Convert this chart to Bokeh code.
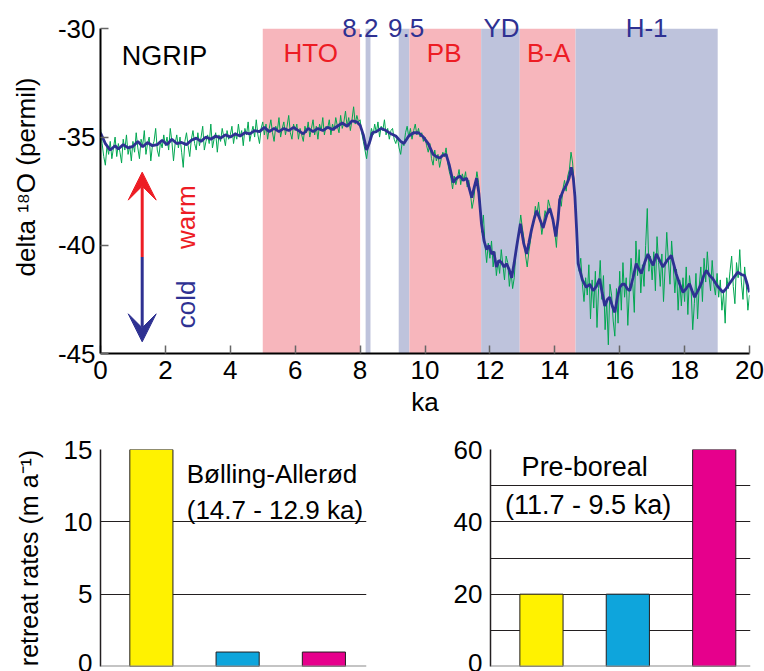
import numpy as np
from bokeh.plotting import figure
from bokeh.models import Range1d, FixedTicker, Label, Arrow, VeeHead, Span, ColumnDataSource
from bokeh.layouts import column, row
from bokeh.embed import file_html
from bokeh.resources import INLINE

FONT = "Liberation Sans"
RED = "#ed1c24"
NAVY = "#2e3192"
PINK = "#f7b6bc"
LAVENDER = "#bec3dc"

# ---------------- data: NGRIP delta 18O ----------------
# raw (20-yr-ish) record, sampled every 0.05 ka from 0 to 20 ka
green_d18o = [
    -34.6, -35.3, -35.9, -36.3, -35.4, -35.8, -35.2, -36.0, -35.5, -35.0, -35.9, -35.3, -35.7, -36.2, -35.1, -35.6, -34.9, -35.8, -35.4, -36.1,
    -35.2, -35.7, -34.8, -35.5, -36.0, -35.1, -35.4, -34.7, -35.8, -35.3, -35.0, -36.1, -35.4, -35.2, -34.6, -35.6, -35.9, -35.2, -35.5, -34.9,
    -35.4, -35.0, -35.6, -34.6, -35.2, -36.1, -35.3, -34.9, -35.5, -35.0, -35.7, -36.4, -35.2, -34.8, -35.4, -35.9, -35.1, -34.7, -35.3, -35.6,
    -34.8, -35.4, -35.0, -34.5, -35.6, -35.2, -34.9, -35.3, -34.4, -35.5, -35.1, -34.8, -35.7, -34.9, -35.2, -34.6, -35.0, -35.4, -34.7, -35.1,
    -34.9, -34.5, -35.3, -34.8, -35.1, -34.4, -35.0, -34.7, -35.4, -34.6, -34.9, -34.3, -35.2, -34.8, -34.5, -35.0, -34.2, -34.9, -35.3, -34.6,
    -34.3, -34.9, -34.4, -35.1, -34.6, -34.2, -34.8, -35.2, -34.5, -34.7, -34.1, -35.0, -34.6, -34.3, -34.9, -34.5, -34.0, -34.8, -35.1, -34.4,
    -34.7, -34.4, -35.1, -34.6, -34.9, -35.2, -34.5, -34.8, -34.3, -35.0, -34.6, -34.2, -34.9, -34.5, -35.1, -34.4, -34.7, -34.1, -34.9, -34.5,
    -34.6, -34.2, -34.9, -34.4, -34.7, -34.1, -34.5, -34.8, -34.0, -34.6, -34.3, -33.8, -34.5, -34.1, -34.7, -34.2, -33.6, -34.4, -34.0, -34.3,
    -34.2, -34.8, -35.2, -35.6, -36.0, -35.4, -35.1, -34.6, -34.9, -34.4, -34.8, -34.3, -35.0, -34.5, -34.7, -34.2, -34.9, -34.6, -35.1, -34.7,
    -34.6, -35.1, -35.3, -35.0, -35.5, -35.8, -35.2, -35.4, -34.8, -34.5, -35.0, -34.6, -35.1, -34.7, -34.4, -34.9, -34.6, -35.0, -34.8, -35.2,
    -35.0, -35.4, -35.7, -35.3, -36.0, -36.3, -35.6, -36.1, -35.8, -36.4, -36.0, -35.7, -35.9, -35.5, -36.2, -36.6, -36.9, -37.4, -36.8, -37.2,
    -36.9, -36.5, -37.2, -36.7, -37.0, -36.6, -37.3, -37.0, -37.6, -38.3, -37.9, -37.2, -36.6, -37.1, -38.2, -39.4, -38.6, -40.0, -40.8, -39.9,
    -40.6, -39.8, -41.0, -40.3, -41.4, -40.7, -41.3, -40.2, -40.9, -41.6, -40.5, -40.8, -41.9, -41.2, -42.0, -41.5, -40.3, -39.8, -39.3, -38.6,
    -39.2, -39.7, -40.5, -41.0, -40.3, -39.8, -39.1, -38.9, -38.2, -38.6, -38.0, -38.8, -39.5, -39.0, -38.4, -38.7, -37.9, -38.2, -38.6, -38.9,
    -39.4, -40.1, -38.7, -37.7, -38.2, -37.4, -37.0, -37.5, -36.8, -36.5, -35.7, -36.2, -37.3, -38.6, -40.4, -41.2, -40.6, -41.8, -42.6, -41.5,
    -42.3, -40.9, -43.4, -41.6, -42.9, -41.2, -43.8, -42.0, -40.7, -42.5, -41.4, -43.9, -42.6, -44.6, -41.8, -42.3, -43.5, -44.2, -42.0, -43.6,
    -41.2, -43.0, -40.8, -42.4, -41.5, -43.7, -42.0, -40.6, -41.7, -43.1, -39.8, -41.4, -40.2, -42.2, -40.9, -41.9, -40.0, -38.3, -41.2, -40.5,
    -41.6, -40.3, -42.1, -39.6, -40.8, -41.9, -40.4, -42.6, -41.0, -39.4, -40.7, -41.8, -39.8, -40.9, -42.2, -41.1, -43.0, -41.6, -42.8, -41.5,
    -42.6, -41.0, -43.2, -41.4, -42.0, -43.9, -42.7, -41.3, -43.4, -41.9, -41.0, -42.6, -40.6, -41.7, -40.3, -41.4, -42.1, -40.7, -41.8, -42.3,
    -41.3, -42.4, -41.6, -43.0, -42.2, -43.6, -41.5, -42.0, -41.2, -40.5, -41.9, -42.7, -40.8, -41.5, -40.2, -41.7, -42.5, -41.0, -41.8, -43.0,
    -42.3,
]
green_ka = np.linspace(0.0, 20.0, len(green_d18o))

# smoothed record
blue_ka = [
    0.0, 0.15, 0.3, 0.45, 0.55, 0.7, 0.85, 1.0, 1.15, 1.3, 1.45, 1.6, 1.75, 1.9, 2.05, 2.2, 2.35, 2.5, 2.65, 2.8,
    2.95, 3.1, 3.25, 3.4, 3.55, 3.7, 3.85, 4.0, 4.15, 4.3, 4.45, 4.6, 4.75, 4.9, 5.05, 5.2, 5.35, 5.5, 5.65, 5.8,
    5.95, 6.1, 6.25, 6.4, 6.55, 6.7, 6.85, 7.0, 7.15, 7.3, 7.45, 7.6, 7.75, 7.9, 8.0, 8.1, 8.2, 8.28, 8.38, 8.5,
    8.65, 8.8, 8.95, 9.1, 9.25, 9.35, 9.5, 9.65, 9.8, 9.95, 10.1, 10.25, 10.35, 10.45, 10.55, 10.65, 10.75, 10.87, 10.97, 11.08,
    11.18, 11.28, 11.44, 11.52, 11.59, 11.66, 11.74, 11.82, 11.9, 11.97, 12.05, 12.12, 12.2, 12.28, 12.36, 12.44, 12.51, 12.59, 12.67, 12.75,
    12.82, 12.94, 13.04, 13.13, 13.2, 13.28, 13.36, 13.44, 13.54, 13.64, 13.75, 13.85, 13.94, 14.03, 14.1, 14.15, 14.25, 14.36, 14.44, 14.51,
    14.57, 14.62, 14.67, 14.72, 14.85, 14.97, 15.08, 15.18, 15.28, 15.38, 15.46, 15.54, 15.62, 15.69, 15.77, 15.85, 15.93, 16.0, 16.08, 16.15,
    16.23, 16.31, 16.41, 16.51, 16.59, 16.67, 16.77, 16.87, 16.95, 17.03, 17.13, 17.23, 17.33, 17.46, 17.59, 17.67, 17.74, 17.85, 17.95, 18.05,
    18.15, 18.23, 18.31, 18.41, 18.51, 18.59, 18.67, 18.77, 18.87, 19.02, 19.18, 19.28, 19.38, 19.51, 19.64, 19.75, 19.85, 19.93, 20.0,
]
blue_d18o = [
    -34.8, -35.3, -35.6, -35.4, -35.55, -35.35, -35.5, -35.43, -35.2, -35.45, -35.25, -35.4, -35.35, -35.15, -35.35, -35.1, -35.3, -35.25, -35.35, -35.15,
    -35.05, -35.2, -35.0, -35.1, -34.95, -35.05, -34.9, -35.0, -34.85, -34.95, -34.8, -34.85, -34.7, -34.75, -34.55, -34.75, -34.6, -34.75, -34.6, -34.7,
    -34.55, -34.7, -34.85, -34.6, -34.75, -34.6, -34.7, -34.55, -34.65, -34.5, -34.35, -34.5, -34.25, -34.3, -34.45, -34.9, -35.6, -35.3, -34.8, -34.75,
    -34.6, -34.7, -34.85, -34.95, -35.2, -35.3, -34.95, -34.8, -34.8, -35.0, -35.3, -35.8, -35.9, -35.97, -35.85, -35.8, -36.3, -37.1, -36.9, -36.8,
    -37.0, -36.9, -37.8, -37.3, -36.9, -37.6, -39.0, -39.8, -40.2, -40.0, -40.4, -40.3, -41.0, -40.7, -40.8, -41.0, -40.85, -41.1, -41.5, -40.8,
    -40.1, -39.0, -39.9, -40.4, -39.9, -39.3, -38.8, -38.4, -38.8, -39.2, -38.6, -38.3, -38.8, -39.6, -38.8, -37.9, -37.5, -37.2, -36.9, -36.4,
    -36.9, -37.75, -39.2, -40.85, -41.6, -41.94, -41.8, -42.1, -41.9, -41.55, -42.2, -42.8, -42.5, -42.4, -42.8, -43.1, -42.4, -41.95, -41.8, -41.8,
    -42.0, -42.1, -41.5, -40.85, -41.1, -41.3, -40.8, -40.4, -40.7, -40.93, -40.4, -40.7, -41.0, -40.7, -40.47, -40.9, -41.32, -41.8, -42.17, -42.0,
    -41.78, -42.1, -42.4, -42.1, -41.78, -41.4, -41.16, -41.4, -41.55, -41.9, -42.17, -42.0, -41.78, -41.5, -41.24, -41.35, -41.4, -41.8, -42.17,
]

# climate periods
band_start = [5.0, 8.17, 9.19, 9.52, 11.73, 12.92, 14.64]
band_end = [8.0, 8.32, 9.52, 11.73, 12.92, 14.64, 19.02]
band_kind = ["warm", "cold", "cold", "warm", "cold", "warm", "cold"]
band_label = ["HTO", "8.2", "9.5", "PB", "YD", "B-A", "H-1"]
band_label_x = [6.48, 8.01, 9.42, 10.59, 12.36, 13.81, 16.83]

# glacier retreat rates
bar_colors = ["#fff200", "#0ea5dc", "#e6008c"]
ba_rates = [15, 1, 1]      # Bølling-Allerød (14.7 - 12.9 ka)
pb_rates = [20, 20, 60]    # Pre-boreal (11.7 - 9.5 ka)

# ---------------- top panel ----------------
p = figure(width=764, height=430, x_range=Range1d(0, 20), y_range=Range1d(-45, -28.69),
           output_backend="svg", toolbar_location=None,
           min_border_left=100, min_border_right=15, min_border_top=0, min_border_bottom=77)
p.outline_line_color = None
p.grid.visible = False
p.background_fill_color = "white"

band_src = ColumnDataSource(dict(
    left=band_start, right=band_end,
    color=[PINK if k == "warm" else LAVENDER for k in band_kind]))
p.quad(left="left", right="right", bottom=-45, top=-30, fill_color="color",
       line_color=None, source=band_src)

p.line(green_ka, green_d18o, line_color="#00a651", line_width=1)
p.line(blue_ka, blue_d18o, line_color=NAVY, line_width=2.8)

for lbl, lx, kind in zip(band_label, band_label_x, band_kind):
    if kind == "warm":
        p.add_layout(Label(x=lx, y=-31.1, text=lbl, text_color=RED, text_font=FONT,
                           text_font_size="26px", text_align="center", text_baseline="middle"))
    else:
        p.add_layout(Label(x=lx, y=-29.95, text=lbl, text_color=NAVY, text_font=FONT,
                           text_font_size="26px", text_align="center", text_baseline="alphabetic"))

p.add_layout(Label(x=1.97, y=-31.25, text="NGRIP", text_color="black", text_font=FONT,
                   text_font_size="27px", text_align="center", text_baseline="middle"))

# warm / cold arrows
p.add_layout(Arrow(x_start=1.285, y_start=-40.54, x_end=1.285, y_end=-36.62,
                   line_color=RED, line_width=3,
                   end=VeeHead(size=28, fill_color=RED, line_color=RED)))
p.add_layout(Arrow(x_start=1.285, y_start=-40.54, x_end=1.285, y_end=-44.46,
                   line_color=NAVY, line_width=3,
                   end=VeeHead(size=28, fill_color=NAVY, line_color=NAVY)))
p.add_layout(Label(x=2.62, y=-38.7, text="warm", text_color=RED, text_font=FONT,
                   text_font_size="26px", text_align="center", text_baseline="middle",
                   angle=np.pi / 2))
p.add_layout(Label(x=2.62, y=-42.73, text="cold", text_color=NAVY, text_font=FONT,
                   text_font_size="26px", text_align="center", text_baseline="middle",
                   angle=np.pi / 2))

y_ticks = [-45, -40, -35, -30]
p.xaxis.ticker = FixedTicker(ticks=list(range(0, 21, 2)))
p.yaxis.ticker = FixedTicker(ticks=y_ticks)
p.yaxis.bounds = (-45, -30)
p.yaxis.major_label_overrides = {t: str(t) for t in y_ticks}
for ax in (p.xaxis[0], p.yaxis[0]):
    ax.major_tick_in = 8
    ax.major_tick_out = 0
    ax.minor_tick_line_color = None
    ax.major_tick_line_color = "#666666"
    ax.major_tick_line_width = 1.5
    ax.axis_line_color = "black"
    ax.axis_line_width = 2
    ax.major_label_text_font = FONT
    ax.major_label_text_font_size = "26px"
    ax.major_label_text_color = "black"
    ax.axis_label_text_font = FONT
    ax.axis_label_text_font_size = "26px"
    ax.axis_label_text_font_style = "normal"
    ax.axis_label_text_color = "black"
p.xaxis.axis_label = "ka"
p.xaxis.major_label_standoff = 7
p.xaxis.axis_label_standoff = 5
p.yaxis.axis_label = "delta ¹⁸O (permil)"
p.yaxis.major_label_standoff = 5
p.yaxis.axis_label_standoff = 14

# ---------------- bottom panels ----------------
bar_x = list(range(1, len(bar_colors) + 1))


def bar_panel(rates, ymax, ticks, grid_ticks, x_end, border_left, border_right, ylabel):
    f = figure(width=382, height=241, x_range=Range1d(0.41, x_end), y_range=Range1d(0, ymax),
               output_backend="svg", toolbar_location=None, x_axis_location=None,
               min_border_left=border_left, min_border_right=border_right,
               min_border_top=19, min_border_bottom=5)
    f.outline_line_color = None
    f.xgrid.visible = False
    f.ygrid.ticker = FixedTicker(ticks=grid_ticks)
    f.ygrid.grid_line_color = "#231f20"
    f.ygrid.grid_line_width = 1.2
    f.vbar(x=bar_x, top=rates, width=0.5, fill_color=bar_colors, line_color="#231f20", line_width=1)
    f.add_layout(Span(location=0, dimension="width", line_color="#8a8a8a", line_width=2))
    ax = f.yaxis[0]
    ax.ticker = FixedTicker(ticks=ticks)
    ax.major_tick_in = 0
    ax.major_tick_out = 0
    ax.minor_tick_line_color = None
    ax.axis_line_color = "#231f20"
    ax.axis_line_width = 1.5
    ax.major_label_text_font = FONT
    ax.major_label_text_font_size = "26px"
    ax.major_label_text_color = "black"
    ax.major_label_standoff = 8
    if ylabel:
        ax.axis_label = ylabel
        ax.axis_label_text_font = FONT
        ax.axis_label_text_font_size = "25px"
        ax.axis_label_text_font_style = "normal"
        ax.axis_label_text_color = "black"
        ax.axis_label_standoff = 18
    return f


pl = bar_panel(ba_rates, 15, [0, 5, 10, 15], [5, 10, 15], 3.494, 100, 16, "retreat rates (m a⁻¹)")
pl.add_layout(Label(x=1.41, y=13.3, text="Bølling-Allerød", text_font=FONT, text_font_size="26px",
                    text_color="black", text_align="left", text_baseline="middle"))
pl.add_layout(Label(x=1.41, y=10.85, text="(14.7 - 12.9 ka)", text_font=FONT, text_font_size="26px",
                    text_color="black", text_align="left", text_baseline="middle"))

pr = bar_panel(pb_rates, 60, [0, 20, 40, 60], [10, 20, 30, 40, 50, 60], 3.42, 108, 14, None)
pr.add_layout(Label(x=1.5, y=55.1, text="Pre-boreal", text_font=FONT, text_font_size="27px",
                    text_color="black", text_align="center", text_baseline="middle"))
pr.add_layout(Label(x=1.54, y=44.6, text="(11.7 - 9.5 ka)", text_font=FONT, text_font_size="27px",
                    text_color="black", text_align="center", text_baseline="middle"))

layout = column(p, row(pl, pr, spacing=0), spacing=0)

open("out.html", "w").write(file_html(layout, INLINE))
